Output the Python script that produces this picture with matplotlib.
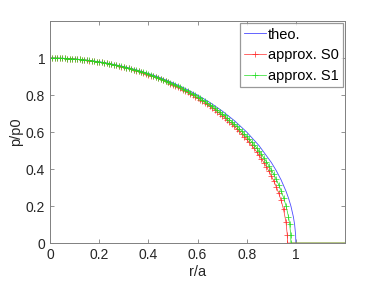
import matplotlib
matplotlib.use('Agg')
import matplotlib.pyplot as plt

# theoretical curve p/p0 = sqrt(1 - (r/a)^2), tabulated
r_theo = [0.0, 0.05, 0.1, 0.15, 0.2, 0.25, 0.3, 0.35, 0.4, 0.45, 0.5, 0.55,
          0.6, 0.65, 0.7, 0.75, 0.8, 0.85, 0.9, 0.92, 0.94, 0.96, 0.97,
          0.98, 0.99, 0.995, 0.999, 1.0]
p_theo = [1.0, 0.99875, 0.99499, 0.98869, 0.9798, 0.96825, 0.95394, 0.93675,
          0.91652, 0.89303, 0.86603, 0.83516, 0.8, 0.75993, 0.71414, 0.66144,
          0.6, 0.52678, 0.43589, 0.39192, 0.34117, 0.28, 0.2431, 0.199,
          0.14107, 0.09987, 0.04471, 0.0]

# approx. S0 (red)
r_s0 = [i / 100 for i in range(97)] + [0.965, 0.966, 1.2]
p_s0 = [1.0, 1.0, 0.9998, 0.9995, 0.9991, 0.9987, 0.9981, 0.9974, 0.9966, 0.9957,
        0.9946, 0.9935, 0.9923, 0.9909, 0.9894, 0.9879, 0.9862, 0.9844, 0.9825, 0.9805,
        0.9783, 0.9761, 0.9737, 0.9712, 0.9686, 0.9659, 0.9631, 0.9601, 0.9571, 0.9539,
        0.9506, 0.9471, 0.9435, 0.9398, 0.936, 0.9321, 0.928, 0.9237, 0.9194, 0.9149,
        0.9102, 0.9055, 0.9005, 0.8955, 0.8902, 0.8849, 0.8793, 0.8737, 0.8678, 0.8618,
        0.8556, 0.8493, 0.8428, 0.836, 0.8292, 0.8221, 0.8148, 0.8074, 0.7997, 0.7918,
        0.7837, 0.7754, 0.7669, 0.7581, 0.749, 0.7398, 0.7302, 0.7204, 0.7103, 0.6999,
        0.6891, 0.6781, 0.6667, 0.6549, 0.6428, 0.6302, 0.6173, 0.6038, 0.5899, 0.5755,
        0.5605, 0.5449, 0.5286, 0.5116, 0.4938, 0.4751, 0.4554, 0.4346, 0.4125, 0.3888,
        0.3633, 0.3355, 0.3049, 0.2704, 0.2304, 0.1812, 0.1113,
        0.0454, 0.0, 0.0]

# approx. S1 (green)
r_s1 = [i / 100 for i in range(98)] + [0.975, 0.979, 0.98, 1.2]
p_s1 = [1.0, 0.9999, 0.9998, 0.9995, 0.9992, 0.9987, 0.9981, 0.9974, 0.9967, 0.9958,
        0.9948, 0.9937, 0.9925, 0.9912, 0.9897, 0.9882, 0.9866, 0.9848, 0.983, 0.981,
        0.979, 0.9768, 0.9745, 0.9721, 0.9695, 0.9669, 0.9642, 0.9613, 0.9583, 0.9552,
        0.952, 0.9487, 0.9452, 0.9416, 0.9379, 0.9341, 0.9301, 0.926, 0.9218, 0.9174,
        0.9129, 0.9083, 0.9035, 0.8986, 0.8935, 0.8883, 0.883, 0.8775, 0.8718, 0.866,
        0.8601, 0.8539, 0.8476, 0.8411, 0.8345, 0.8277, 0.8207, 0.8134, 0.8061, 0.7985,
        0.7907, 0.7827, 0.7744, 0.766, 0.7573, 0.7484, 0.7392, 0.7298, 0.7201, 0.7101,
        0.6999, 0.6893, 0.6784, 0.6672, 0.6556, 0.6437, 0.6313, 0.6186, 0.6054, 0.5917,
        0.5776, 0.5629, 0.5476, 0.5317, 0.5151, 0.4977, 0.4795, 0.4603, 0.4401, 0.4186,
        0.3957, 0.3712, 0.3445, 0.3153, 0.2828, 0.2455, 0.201, 0.1425,
        0.1009, 0.0452, 0.0, 0.0]

x_ticks = [0, 0.2, 0.4, 0.6, 0.8, 1]
x_tick_labels = ['0', '0.2', '0.4', '0.6', '0.8', '1']
y_ticks = [0, 0.2, 0.4, 0.6, 0.8, 1]
y_tick_labels = ['0', '0.2', '0.4', '0.6', '0.8', '1']

plt.rcParams['font.family'] = ['Liberation Sans', 'DejaVu Sans']
text_col = '#262626'
axis_col = '#808080'

fig = plt.figure(figsize=(3.82, 2.86), dpi=100)
ax = fig.add_axes([0.1309, 0.1503, 0.7723, 0.7762])

ax.plot(r_theo, p_theo, color='#4a4aff', lw=0.6, label='theo.')
ax.plot(r_s0, p_s0, color='#ff2a2a', lw=0.5, marker='+', ms=3.8, mew=0.5,
        label='approx. S0')
ax.plot(r_s1, p_s1, color='#22dd22', lw=0.5, marker='+', ms=3.8, mew=0.5,
        label='approx. S1')

ax.set_xlim(0, 1.2)
ax.set_ylim(0, 1.2)
ax.set_xticks(x_ticks)
ax.set_xticklabels(x_tick_labels)
ax.set_yticks(y_ticks)
ax.set_yticklabels(y_tick_labels)
ax.tick_params(direction='in', top=True, right=True, length=3, width=0.6,
               colors=axis_col, labelcolor=text_col, labelsize=10)
for s in ax.spines.values():
  s.set_color(axis_col)
  s.set_linewidth(0.7)

ax.set_xlabel('r/a', fontsize=10.5, color=text_col, labelpad=2)
ax.set_ylabel('p/p0', fontsize=10.5, color=text_col, labelpad=2)

leg = ax.legend(loc='upper right', fontsize=10.5, frameon=True, fancybox=False,
                edgecolor=axis_col, borderaxespad=0.15, handlelength=1.5,
                handletextpad=0.1, borderpad=0.3, labelspacing=0.45)
leg.get_frame().set_linewidth(0.9)
for t in leg.get_texts():
  t.set_color('black')

fig.savefig('out.png', dpi=100)
